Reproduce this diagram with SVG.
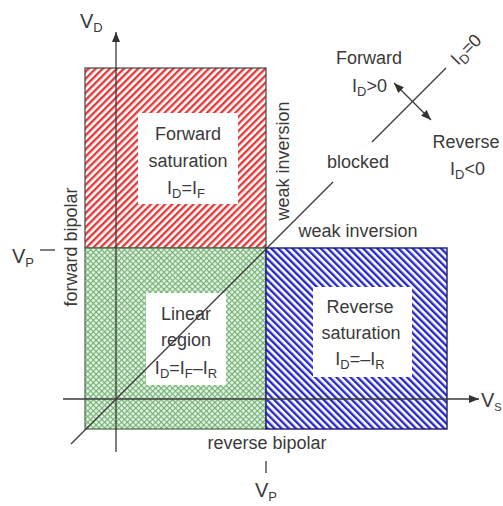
<svg xmlns="http://www.w3.org/2000/svg" width="503" height="506" viewBox="0 0 503 506">
<defs>
<pattern id="red" width="5" height="5" patternUnits="userSpaceOnUse" patternTransform="rotate(45)">
<rect width="5" height="5" fill="#ffffff"/>
<rect width="2.4" height="5" fill="#e23a3a"/>
</pattern>
<pattern id="blue" width="5" height="5" patternUnits="userSpaceOnUse" patternTransform="rotate(-45)">
<rect width="5" height="5" fill="#ffffff"/>
<rect width="2.4" height="5" fill="#2828c8"/>
</pattern>
<pattern id="green" width="4" height="4" patternUnits="userSpaceOnUse" patternTransform="rotate(45)">
<rect width="4" height="4" fill="#e4f2e4"/>
<rect width="1.1" height="4" fill="#72b072"/>
<rect width="4" height="1.1" fill="#72b072"/>
</pattern>
<marker id="ah" viewBox="0 0 10 8" refX="10" refY="4" markerWidth="10" markerHeight="8" markerUnits="userSpaceOnUse" orient="auto-start-reverse">
<path d="M0,0 L10,4 L0,8 z" fill="#333"/>
</marker>
</defs>
<style>
text{font-family:"Liberation Sans",Arial,sans-serif;font-size:18px;fill:#3a3a3a}
.sub{font-size:13px}
.ln{stroke:#3a3a3a;stroke-width:1.3;fill:none}
</style>
<g id="regions">
<rect id="fwd-sat" x="85" y="68" width="181" height="180" fill="url(#red)" stroke="#444" stroke-width="1.2"/>
<rect id="linear" x="85" y="248" width="181" height="181" fill="url(#green)" stroke="#4a6a4a" stroke-width="1.2"/>
<rect id="rev-sat" x="266" y="248" width="181" height="181" fill="url(#blue)" stroke="#1a1a7a" stroke-width="1.4"/>
</g>
<g id="label-boxes">
<rect x="138" y="113" width="100" height="91" fill="#fff"/>
<rect x="146" y="293" width="80" height="92" fill="#fff"/>
<rect x="313" y="287" width="99" height="90" fill="#fff"/>
</g>
<g id="connectors">
<line class="ln" x1="116" y1="452" x2="116" y2="32" marker-end="url(#ah)"/>
<line class="ln" x1="63" y1="399" x2="479" y2="399" marker-end="url(#ah)"/>
<line class="ln" x1="71" y1="444" x2="333" y2="182"/>
<line class="ln" x1="372" y1="142" x2="446" y2="68"/>
<line class="ln" x1="394" y1="83" x2="431" y2="120" marker-start="url(#ah)" marker-end="url(#ah)"/>
<line class="ln" x1="40" y1="250" x2="55" y2="250"/>
<line class="ln" x1="266" y1="461" x2="266" y2="473"/>
</g>
<g id="axis-labels">
<text x="80" y="28" style="font-size:20px">V<tspan class="sub" dy="4">D</tspan></text>
<text x="12" y="263" style="font-size:20px">V<tspan class="sub" dy="4">P</tspan></text>
<text x="255" y="497" style="font-size:20px">V<tspan class="sub" dy="4">P</tspan></text>
<text x="481" y="407" style="font-size:20px">V<tspan dy="4" style="font-size:11px">S</tspan></text>
</g>
<g id="fwd-sat-label">
<text x="188" y="140" text-anchor="middle">Forward</text>
<text x="188" y="167" text-anchor="middle">saturation</text>
<text x="186" y="194" text-anchor="middle">I<tspan class="sub" dy="4">D</tspan><tspan dy="-4">=I</tspan><tspan class="sub" dy="4">F</tspan></text>
</g>
<g id="linear-label">
<text x="186" y="320" text-anchor="middle">Linear</text>
<text x="186" y="346" text-anchor="middle">region</text>
<text x="186" y="374" text-anchor="middle">I<tspan class="sub" dy="4">D</tspan><tspan dy="-4">=I</tspan><tspan class="sub" dy="4">F</tspan><tspan dy="-4">–I</tspan><tspan class="sub" dy="4">R</tspan></text>
</g>
<g id="rev-sat-label">
<text x="360" y="313" text-anchor="middle">Reverse</text>
<text x="361" y="339" text-anchor="middle">saturation</text>
<text x="360" y="365" text-anchor="middle">I<tspan class="sub" dy="4">D</tspan><tspan dy="-4">=–I</tspan><tspan class="sub" dy="4">R</tspan></text>
</g>
<g id="edge-labels">
<text transform="translate(289,161) rotate(-90)" text-anchor="middle">weak inversion</text>
<text x="358" y="237" text-anchor="middle">weak inversion</text>
<text transform="translate(77,247) rotate(-90)" text-anchor="middle">forward bipolar</text>
<text x="267" y="449" text-anchor="middle">reverse bipolar</text>
<text x="358" y="168" text-anchor="middle">blocked</text>
</g>
<g id="direction-labels">
<text x="369" y="64" text-anchor="middle">Forward</text>
<text x="352" y="92">I<tspan class="sub" dy="4">D</tspan><tspan dy="-4">&gt;0</tspan></text>
<text x="466" y="148" text-anchor="middle">Reverse</text>
<text x="450" y="175">I<tspan class="sub" dy="4">D</tspan><tspan dy="-4">&lt;0</tspan></text>
<text transform="translate(458,66) rotate(-45)">I<tspan class="sub" dy="4">D</tspan><tspan dy="-4">=0</tspan></text>
</g>
</svg>
